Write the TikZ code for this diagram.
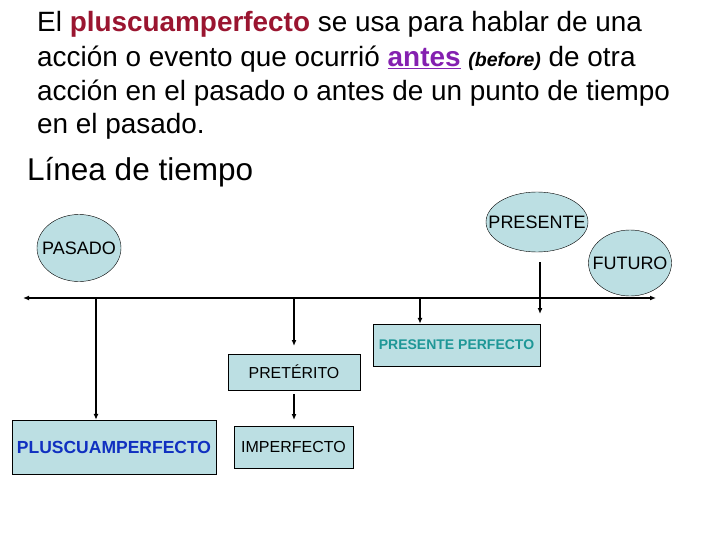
\documentclass[tikz,border=0pt]{standalone}
\usepackage{fontspec}
\setmainfont{Liberation Sans}
\usetikzlibrary{arrows.meta,shapes.geometric}
\definecolor{boxfill}{HTML}{BCDFE3}
\definecolor{plred}{HTML}{9A1530}
\definecolor{antpurple}{HTML}{8420B0}
\definecolor{tealtxt}{HTML}{1E9797}
\definecolor{bluetxt}{HTML}{1030C0}
\begin{document}
\begin{tikzpicture}[x=1pt,y=-1pt,
  line/.style={anchor=base west, inner sep=0pt, font=\fontsize{27.9}{32}\selectfont},
  oval/.style={ellipse, draw=black, fill=boxfill, inner sep=0pt},
  ovaltext/.style={label={[font=\fontsize{18}{20}\selectfont, inner sep=0pt]center:#1}},
  tbox/.style={rectangle, draw=black, fill=boxfill, inner sep=0pt},
  arr/.style={-{Latex[length=6pt,width=5pt]}, line width=1.6pt}
]
\useasboundingbox (0,0) rectangle (720,540);
% text
\node[line] (l1) at (37,32) {El \textcolor{plred}{\textbf{pluscuamperfecto}} se usa para hablar de una};
\node[line] (l2) at (37,67) {acción o evento que ocurrió \textcolor{antpurple}{\textbf{\underline{antes}}} {\fontsize{19.5}{22}\selectfont\textbf{\textit{(before)}}} de otra};
\node[line] (l3) at (37,101) {acción en el pasado o antes de un punto de tiempo};
\node[line] (l4) at (37,134) {en el pasado.};
\node[line, font=\fontsize{31.5}{35}\selectfont] (lt) at (27,181) {Línea de tiempo};
% ellipses
\node[oval, minimum width=84pt, minimum height=67pt, ovaltext=PASADO] (pasado) at (79,248) {};
\node[oval, minimum width=102pt, minimum height=60pt, ovaltext=PRESENTE] (presente) at (537,222) {};
\node[oval, minimum width=83pt, minimum height=66pt, ovaltext=FUTURO] (futuro) at (630,263) {};
% boxes
\node[tbox, minimum width=167pt, minimum height=42pt, font=\fontsize{14}{16}\selectfont\bfseries, text=tealtxt] (pp) at (456.5,345) {PRESENTE PERFECTO};
\node[tbox, minimum width=132pt, minimum height=36pt, font=\fontsize{15.9}{18}\selectfont] (pret) at (294,372) {PRETÉRITO};
\node[tbox, minimum width=204pt, minimum height=54pt, font=\fontsize{17.5}{20}\selectfont\bfseries, text=bluetxt] (plus) at (114,447) {PLUSCUAMPERFECTO};
\node[tbox, minimum width=119pt, minimum height=42pt, font=\fontsize{16}{18}\selectfont] (imp) at (293.5,447) {IMPERFECTO};
% timeline
\coordinate (tl) at (23,298);
\coordinate (tr) at (656,298);
\draw[{Latex[length=6pt,width=5pt]}-{Latex[length=6pt,width=5pt]}, line width=2pt] (tl) -- (tr);
\coordinate (t1) at (96,298);
\coordinate (t2) at (294,298);
\coordinate (e2) at (294,346);
\coordinate (t3) at (420,298);
\coordinate (p1) at (540,262);
\coordinate (p2) at (540,314);
\coordinate (q1) at (294,394);
\coordinate (q2) at (294,420);
\draw[arr] (t1) -- (t1 |- plus.north);
\draw[arr] (t2) -- (e2);
\draw[arr] (t3) -- (t3 |- pp.north);
\draw[arr] (p1) -- (p2);
\draw[arr] (q1) -- (q2);
\end{tikzpicture}
\end{document}
